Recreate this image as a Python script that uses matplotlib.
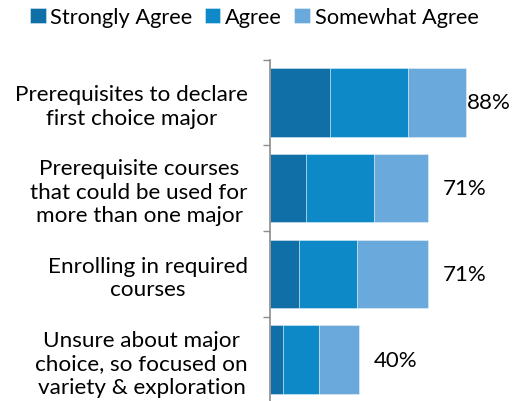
import matplotlib
matplotlib.use("Agg")
import matplotlib.pyplot as plt
import numpy as np

categories = [
    "Prerequisites to declare\nfirst choice major",
    "Prerequisite courses\nthat could be used for\nmore than one major",
    "Enrolling in required\ncourses",
    "Unsure about major\nchoice, so focused on\nvariety & exploration",
]
strongly_agree = [27, 16, 13, 6]
agree = [35, 31, 26, 16]
somewhat_agree = [26, 24, 32, 18]
series_names = ["Strongly Agree", "Agree", "Somewhat Agree"]
colors = ["#0f6fa6", "#0e89c8", "#6aa9dc"]

plt.rcParams['font.family'] = ['Lato', 'DejaVu Sans']
FS = 16.2

fig = plt.figure(figsize=(5.13, 4.02), dpi=100)
ax = fig.add_axes([270 / 513, -1.4 / 402, 235 / 513, 342.9 / 402])

y = np.arange(len(categories))
left = np.zeros(len(categories))
handles = []
for vals, name, c in zip([strongly_agree, agree, somewhat_agree], series_names, colors):
    b = ax.barh(y, vals, left=left, height=0.8, color=c,
                edgecolor=(1, 1, 1, 0.45), linewidth=0.6, label=name)
    handles.append(b)
    left += np.array(vals)

totals = left
for yi, t in zip(y, totals):
    ax.text(min(t + 6.5, 88.4), yi, f"{int(round(t))}%", va="center", ha="left",
            fontsize=16, color="black")

ax.set_ylim(3.5, -0.5)
ax.set_xlim(0, 105.7)
ax.set_yticks(y, categories)
for t in ax.get_yticklabels():
    t.set_multialignment("center")
    t.set_fontsize(FS)
    t.set_linespacing(1.22)
ax.set_yticks(np.arange(-0.5, len(categories), 1), minor=True)
ax.tick_params(axis="y", which="major", length=0, pad=16)
ax.tick_params(axis="y", which="minor", length=5, color="#8c8c8c", width=1)
ax.set_xticks([])
for s in ["top", "right", "bottom"]:
    ax.spines[s].set_visible(False)
ax.spines["left"].set_color("#8c8c8c")
ax.spines["left"].set_linewidth(1.2)

fig.legend(handles=handles, labels=series_names, loc="upper left",
           bbox_to_anchor=(30 / 513, 1 - 8 / 402), ncol=3, frameon=False,
           fontsize=15.7, handlelength=0.72, handleheight=0.72,
           handletextpad=0.22, columnspacing=0.55, borderpad=0, borderaxespad=0)

fig.savefig("out.png", dpi=100)
